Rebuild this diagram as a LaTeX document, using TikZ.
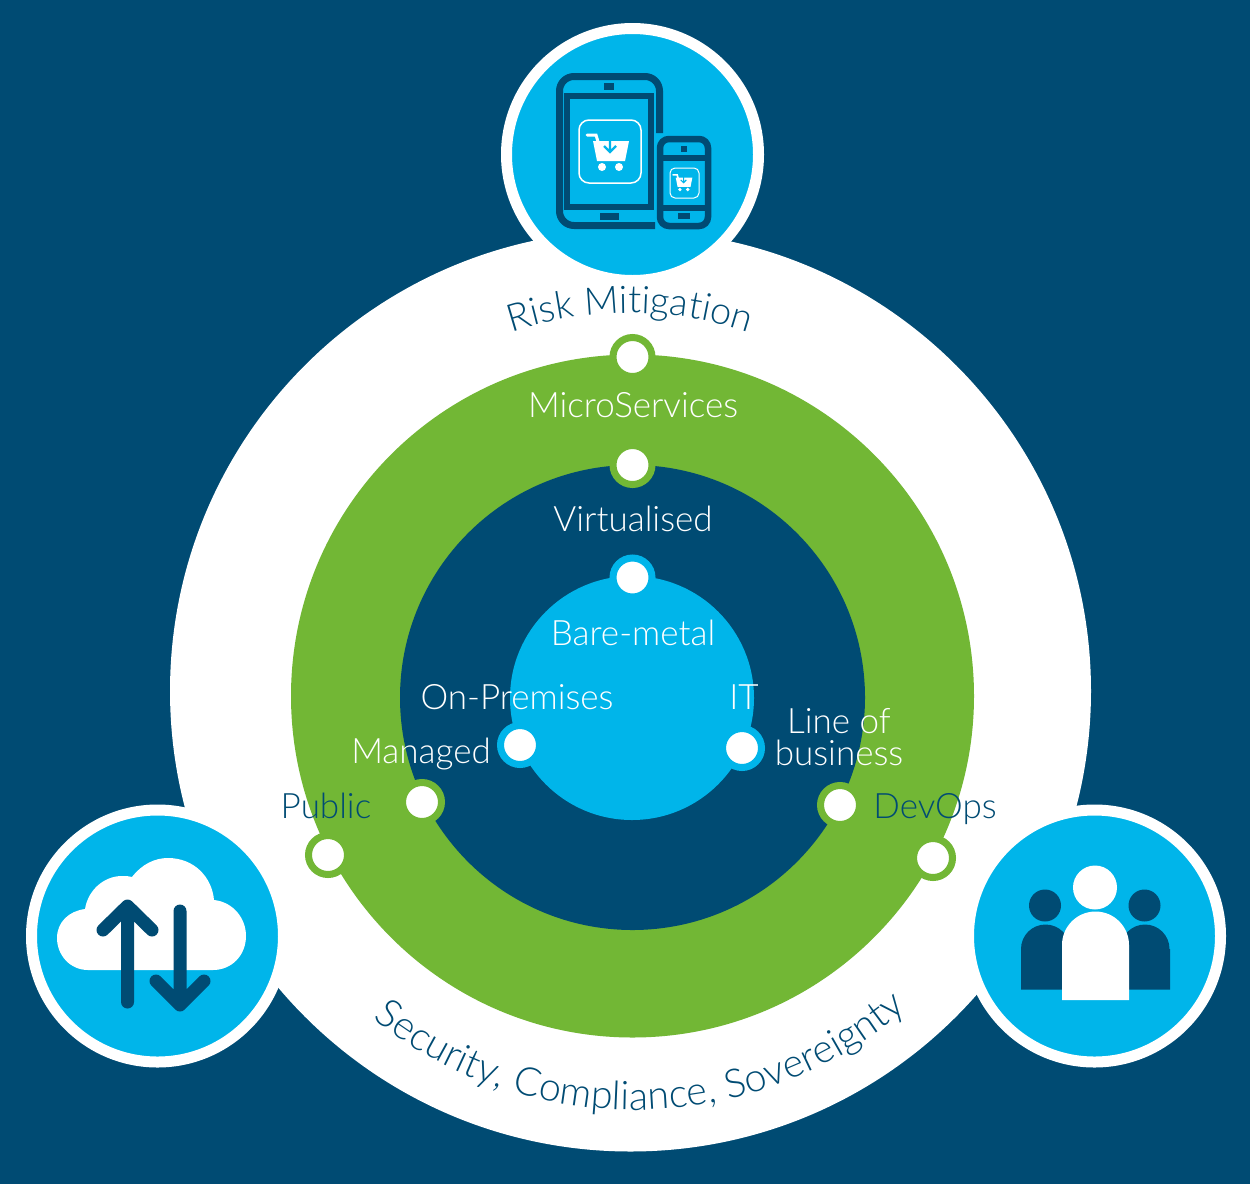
\documentclass[tikz,border=0pt]{standalone}
\usepackage{fontspec}
\setmainfont{Lato Light}
\usetikzlibrary{decorations.text}
\definecolor{navy}{HTML}{004B73}
\definecolor{sky}{HTML}{00B5EA}
\definecolor{leaf}{HTML}{72B735}
\tikzset{
  x=1pt,y=-1pt,
  badge/.style={circle,inner sep=0pt,minimum size=252pt,fill=sky,draw=white,line width=11pt},
  dotg/.style={circle,inner sep=0pt,minimum size=39pt,fill=white,draw=leaf,line width=7pt},
  dotb/.style={circle,inner sep=0pt,minimum size=39pt,fill=white,draw=sky,line width=7pt},
  lab/.style={inner sep=0pt,font=\fontsize{35}{38}\selectfont,text=white,anchor=base},
  labn/.style={lab,text=navy},
  ico/.style={draw=navy,line width=6.5pt,fill=none},
  arr/.style={draw=navy,line width=13pt,line cap=round,line join=round},
}
\begin{document}
\begin{tikzpicture}
\useasboundingbox (0,0) rectangle (1250,1184);
\fill[navy] (0,0) rectangle (1250,1184);
\node[circle,inner sep=0pt,minimum size=921pt,fill=white] (outer) at (630.5,691) {};
\node[circle,inner sep=0pt,minimum size=683pt,fill=leaf] (ringg) at (632.5,696) {};
\node[circle,inner sep=0pt,minimum size=465pt,fill=navy] (inner) at (632.5,697.5) {};
\node[circle,inner sep=0pt,minimum size=244pt,fill=sky] (core) at (632,698) {};
% badges
\node[badge] (btop) at (632.5,154.5) {};
\node[badge] (bleft) at (157.5,936) {};
\node[badge] (bright) at (1094.5,936) {};
% curved texts
\path[decorate,decoration={text along path,text align=center,
  text={|\fontsize{38}{44}\selectfont\color{navy}|Risk Mitigation}}]
  (630,691) ++(215:378) arc[start angle=215,end angle=325,radius=378];
\path[decorate,decoration={text along path,text align=center,
  text={|\fontsize{39.5}{44}\selectfont\color{navy}|Security, Compliance, Sovereignty}}]
  (634,691) ++(147:419) arc[start angle=147,end angle=31,radius=419];
% dots
\node[dotg] (d1) at (632.5,357) {};
\node[dotg] (d2) at (632.5,465) {};
\node[dotb] (d3) at (632.5,577.5) {};
\node[dotb] (d4) at (520,745) {};
\node[dotb] (d5) at (742,748) {};
\node[dotg] (d6) at (422,802) {};
\node[dotg] (d7) at (328,855) {};
\node[dotg] (d8) at (840,805) {};
\node[dotg] (d9) at (933,858) {};
% labels
\node[lab] (l1) at (633,417) {MicroServices};
\node[lab] (l2) at (633,531) {Virtualised};
\node[lab] (l3) at (633,645) {Bare-metal};
\node[lab] (l4) at (517,709) {On-Premises};
\node[lab] (l5) at (744,709) {IT};
\node[lab] (l6) at (839,733) {Line of};
\node[lab] (l7) at (839,765) {business};
\node[lab] (l8) at (421,763) {Managed};
\node[labn] (l9) at (326,818) {Public};
\node[labn] (l10) at (935,818) {DevOps};
% tablet icon
\draw[ico,line width=7pt,line cap=butt] (655,225.5) -- (574,225.5) arc[start angle=90,end angle=180,radius=14.5] -- (559.5,91) arc[start angle=180,end angle=270,radius=14.5] -- (645,76.5) arc[start angle=-90,end angle=0,radius=14.5] -- (659.5,133);
\fill[navy] (604,83) rectangle (614,90);
\fill[navy] (600,213) rectangle (619,220);
\draw[ico] (567,96) rectangle (651,207);
\draw[white,line width=1.5pt,rounded corners=10pt] (579,120) rectangle (641,183);
% phone
\draw[ico,rounded corners=9pt] (660,139) rectangle (708,226);
\draw[ico] (660,158) -- (708,158) (660,208) -- (708,208);
\fill[navy] (681,146) rectangle (687,152);
\fill[navy] (678,213) rectangle (690,219);
\draw[white,line width=1pt,rounded corners=5pt] (670,168) rectangle (699,198);
% carts
\begin{scope}[shift={(587,131)}]
\fill[white] (6,10) -- (42,10) -- (38,30) -- (10,30) -- cycle;
\draw[white,line width=3pt,line cap=round] (0,4) -- (9,4) -- (12,14);
\fill[white] (15,36) circle[radius=4];
\fill[white] (32,36) circle[radius=4];
\draw[sky,line width=2.2pt] (23,9) -- (23,21) (17,15) -- (23,21) -- (29,15);
\end{scope}
\begin{scope}[shift={(673,173)},scale=0.46]
\fill[white] (6,10) -- (42,10) -- (38,30) -- (10,30) -- cycle;
\draw[white,line width=1.6pt,line cap=round] (0,4) -- (9,4) -- (12,14);
\fill[white] (15,36) circle[radius=4];
\fill[white] (32,36) circle[radius=4];
\draw[sky,line width=1.1pt] (23,9) -- (23,21) (17,15) -- (23,21) -- (29,15);
\end{scope}
% cloud
\fill[white] (88,970)
  .. controls (70,970) and (57,955) .. (57,938)
  .. controls (57,922) and (69,911) .. (85,909)
  .. controls (88,890) and (104,876) .. (122,876)
  .. controls (126,876) and (129,876) .. (132,877)
  .. controls (142,864) and (155,858) .. (168,858)
  .. controls (194,858) and (212,877) .. (214,900)
  .. controls (233,902) and (246,918) .. (246,936)
  .. controls (246,955) and (232,970) .. (213,970) -- cycle;
\draw[arr] (127.5,1002) -- (127.5,906) (103,930) -- (127.5,906) -- (152,930);
\draw[arr] (180,911) -- (180,1005) (156,981) -- (180,1005) -- (204,981);
% people
\fill[navy] (1045,905.5) circle[radius=16];
\fill[navy] (1144.5,905.5) circle[radius=16];
\fill[navy] (1021,989.5) -- (1021,949) arc[start angle=180,end angle=360,radius=24.5] -- (1070,989.5) -- cycle;
\fill[navy] (1120.5,989.5) -- (1120.5,949) arc[start angle=180,end angle=360,radius=24.5] -- (1170,949) -- (1170,989.5) -- cycle;
\fill[white] (1095,887.5) circle[radius=22];
\fill[white] (1062,1000) -- (1062,945) arc[start angle=180,end angle=360,radius=33.5] -- (1129,1000) -- cycle;
\end{tikzpicture}
\end{document}
